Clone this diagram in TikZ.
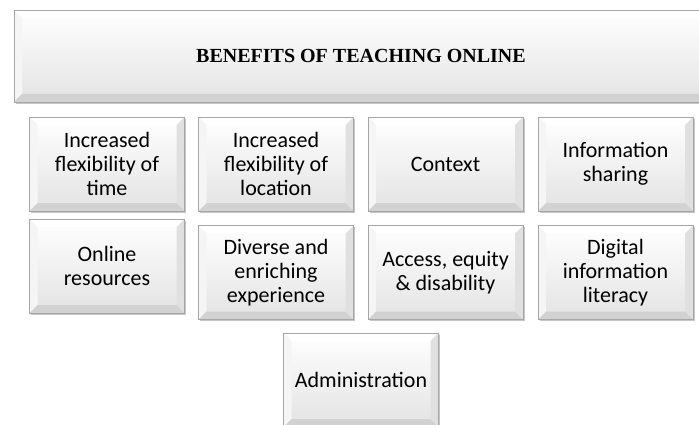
\documentclass[tikz,border=0pt]{standalone}
\usepackage{fontspec}
\usetikzlibrary{shadows}
\newfontfamily\boxfont{Carlito}
\newfontfamily\headfont{Liberation Serif}
\def\boxtext{\boxfont\fontsize{22}{24}\selectfont}
\def\headtext{\headfont\bfseries\fontsize{20}{22}\selectfont}

\begin{document}
\begin{tikzpicture}[x=1pt, y=-1pt,
          bevel/.style = {draw=gray!70, line width=0.9pt,
          top color=white, bottom color=gray!22,
          drop shadow={shadow xshift=1.8pt, shadow yshift=-1.8pt, opacity=0.45},
          path picture={
            \fill[white]  (path picture bounding box.north west) -- (path picture bounding box.north east)
              -- ([shift={(-8pt,-8pt)}]path picture bounding box.north east) -- ([shift={(8pt,-8pt)}]path picture bounding box.north west) -- cycle;
            \fill[gray!8]  (path picture bounding box.north west) -- (path picture bounding box.south west)
              -- ([shift={(8pt,8pt)}]path picture bounding box.south west) -- ([shift={(8pt,-8pt)}]path picture bounding box.north west) -- cycle;
            \fill[gray!35]  (path picture bounding box.south west) -- (path picture bounding box.south east)
              -- ([shift={(-8pt,8pt)}]path picture bounding box.south east) -- ([shift={(8pt,8pt)}]path picture bounding box.south west) -- cycle;
            \fill[gray!24]  (path picture bounding box.north east) -- (path picture bounding box.south east)
              -- ([shift={(-8pt,8pt)}]path picture bounding box.south east) -- ([shift={(-8pt,-8pt)}]path picture bounding box.north east) -- cycle;
          }},
          benefit/.style = {bevel, minimum width=155pt, minimum height=94pt,
          align=center, font=\boxtext, inner sep=2pt}
          ]
          \useasboundingbox (0,0) rectangle (699,425);
          \node[bevel, minimum width=694pt, minimum height=92pt, font=\headtext] (head) at (361,56) {};
          \node at (361,56) {\headtext BENEFITS OF TEACHING ONLINE};
          % first row
          \node[benefit] (time) at (107,164) {Increased\\flexibility of\\time};
          \node[benefit] (location) at (276,164) {Increased\\flexibility of\\location};
          \node[benefit] (context) at (445.5,164) {Context};
          \node[benefit] (sharing) at (615.5,164) {Information\\sharing};
          % second row
          \node[benefit] (resources) at (107,266) {Online\\resources};
          \node[benefit] (diverse) at (276,272.5) {Diverse and\\enriching\\experience};
          \node[benefit] (access) at (445.5,272.5) {Access, equity\\\& disability};
          \node[benefit] (literacy) at (615.5,272.5) {Digital\\information\\literacy};
          % last one
          \node[benefit] (admin) at (361,380) {Administration};
\end{tikzpicture}
\end{document}
